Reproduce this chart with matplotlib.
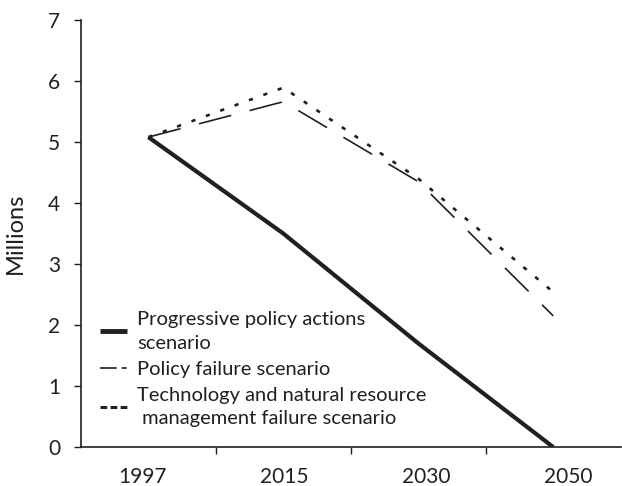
import matplotlib

matplotlib.use("Agg")

import matplotlib.pyplot as plt
import numpy as np

YEARS = ["1997", "2015", "2030", "2050"]
PROGRESSIVE = [5.08, 3.5, 1.7, 0.0]
POLICY_FAILURE = [5.08, 5.66, 4.35, 2.15]
TECH_FAILURE = [5.08, 5.89, 4.4, 2.54]
LABELS = [
    "Progressive policy actions\nscenario",
    "Policy failure scenario",
    "Technology and natural resource\n management failure scenario",
]

INK = "#231f20"
plt.rcParams["font.family"] = ["Lato", "DejaVu Sans"]

fig = plt.figure(figsize=(6.22, 4.86), dpi=100)
ax = fig.add_axes([0.130, 0.080, 0.868, 0.879])

x = np.arange(len(YEARS))
ax.plot(x, PROGRESSIVE, color=INK, lw=3.0, solid_capstyle="butt", label=LABELS[0])
ax.plot(x, POLICY_FAILURE, color=INK, lw=1.2, dashes=(20, 11.4), label=LABELS[1])
ax.plot(x, TECH_FAILURE, color=INK, lw=1.9, dashes=(1.6, 4.2), label=LABELS[2])

ax.set_xlim(-0.5, len(YEARS) - 0.5)
ax.set_ylim(0, 7)
ax.set_yticks(range(8))
ax.tick_params(axis="y", direction="out", length=5, width=1, colors=INK, labelsize=15, pad=10)

# tick marks on category boundaries; year labels drift slightly right as in the original
ax.set_xticks(np.arange(0.5, len(YEARS) - 0.5, 1.0), minor=True)
ax.set_xticks(x * 1.05 - 0.04)
ax.set_xticklabels(YEARS)
ax.tick_params(axis="x", which="major", length=0, labelsize=15, colors=INK, pad=14)
ax.tick_params(axis="x", which="minor", direction="out", length=5, width=1, color=INK)

for side in ("top", "right"):
    ax.spines[side].set_visible(False)
for side in ("left", "bottom"):
    ax.spines[side].set_color(INK)
    ax.spines[side].set_linewidth(1.2)

ax.set_ylabel("Millions", fontsize=17, color=INK, labelpad=16)

leg = ax.legend(
    loc="upper left",
    bbox_to_anchor=(0.035, 0.318),
    frameon=False,
    fontsize=14.5,
    handlelength=1.35,
    handletextpad=0.5,
    labelspacing=0.45,
    borderaxespad=0,
    borderpad=0,
)
for t in leg.get_texts():
    t.set_color(INK)
    t.set_linespacing(1.45)
# legend keys drawn as in the original: "— -" and "- - -"
hl = leg.get_lines()
hl[0].set_linewidth(3.5)
hl[1].set_dashes((10, 3, 3, 10))
hl[2].set_linewidth(2.2)
hl[2].set_dashes((2.2, 1.1))

fig.savefig("out.png", dpi=100)
